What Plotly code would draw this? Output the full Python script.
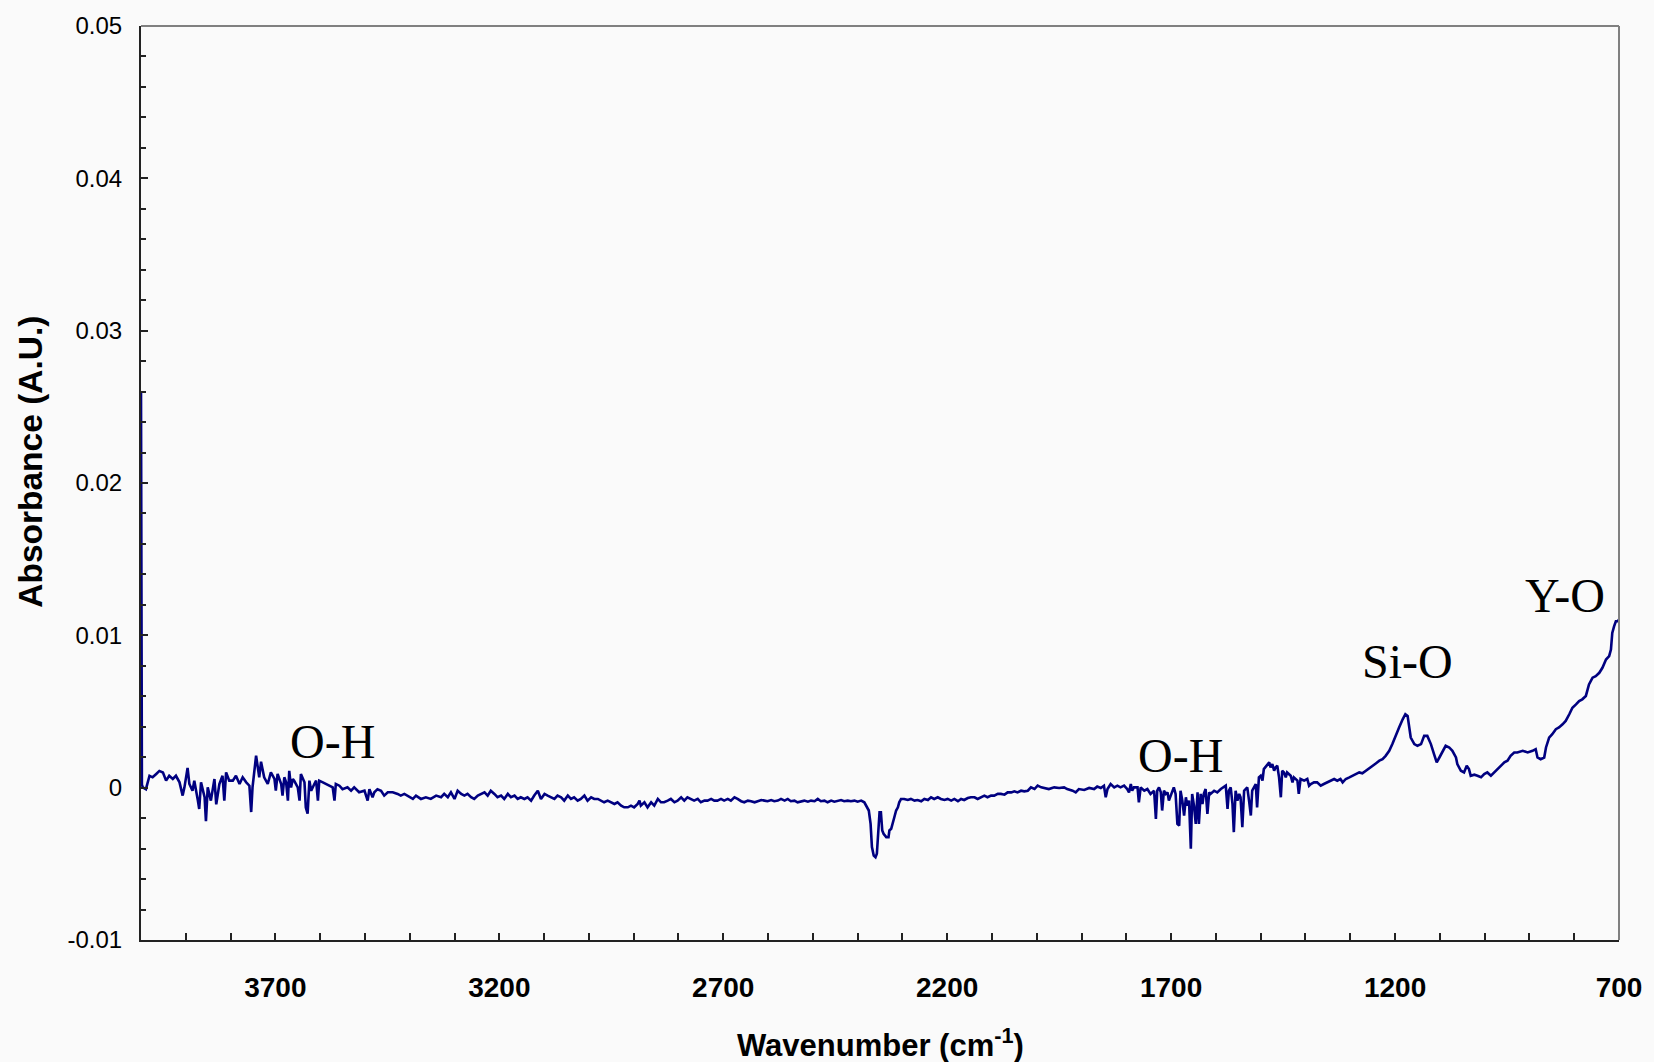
import plotly.graph_objects as go

# Spectrum: wavenumber (cm^-1) and absorbance (A.U.)
wavenumber = [
    4000, 3998, 3996, 3989, 3981, 3974, 3966, 3959, 3951, 3944, 3937, 3929, 3922, 3914, 3907, 3903,
    3896, 3892, 3885, 3881, 3873, 3870, 3866, 3858, 3855, 3851, 3844, 3836, 3832, 3825, 3818, 3814,
    3810, 3803, 3795, 3788, 3780, 3773, 3765, 3758, 3754, 3751, 3743, 3739, 3736, 3732, 3728, 3725,
    3717, 3710, 3702, 3699, 3695, 3687, 3684, 3680, 3676, 3672, 3669, 3665, 3661, 3658, 3650, 3646,
    3643, 3635, 3632, 3628, 3624, 3620, 3613, 3609, 3605, 3602, 3594, 3587, 3579, 3572, 3568, 3565,
    3557, 3550, 3539, 3531, 3524, 3513, 3501, 3494, 3490, 3483, 3479, 3472, 3464, 3457, 3449, 3438,
    3427, 3420, 3412, 3401, 3393, 3386, 3375, 3364, 3353, 3341, 3330,
    3323, 3315, 3308, 3300, 3293, 3285, 3278, 3271, 3263, 3256, 3248, 3241, 3233, 3226, 3219, 3211,
    3204, 3196, 3189, 3181, 3174, 3166, 3159, 3152, 3144, 3137, 3129, 3122, 3114, 3107, 3099, 3092,
    3085, 3077, 3070, 3062, 3055, 3047, 3040, 3033, 3025, 3018, 3010, 3003, 2995, 2988, 2980, 2973,
    2966, 2958, 2951, 2943, 2936, 2928, 2921, 2913, 2906, 2899, 2891, 2887, 2884, 2876, 2869, 2861,
    2854, 2846, 2839, 2832, 2824, 2817, 2809, 2802, 2794, 2787, 2780, 2772, 2765, 2757, 2750, 2742,
    2735, 2727, 2720, 2713, 2705, 2698, 2690, 2683, 2675, 2668,
    2660, 2653, 2645, 2638, 2630, 2623, 2615, 2608, 2601, 2593, 2586, 2578, 2571, 2563, 2556, 2549,
    2541, 2534, 2526, 2519, 2511, 2504, 2496, 2489, 2482, 2474, 2467, 2459, 2452, 2444, 2437, 2430,
    2422, 2415, 2407, 2400, 2392, 2385, 2381, 2375, 2371, 2368, 2364, 2360, 2357, 2355, 2353, 2351,
    2348, 2345, 2342, 2336, 2331, 2329, 2325, 2322, 2318, 2314, 2310, 2307, 2303, 2296, 2288, 2281,
    2273, 2266, 2258, 2251, 2243, 2236, 2229, 2221, 2214, 2206, 2199, 2191, 2184, 2176, 2169, 2162,
    2154, 2147, 2139, 2132, 2124, 2117, 2110, 2102, 2095, 2087, 2080, 2072, 2065, 2057, 2050, 2043,
    2035, 2028, 2020, 2013, 2005, 1998, 1990,
    1984, 1973, 1961, 1950, 1939, 1932, 1920, 1913, 1906, 1894, 1883, 1872, 1865, 1857, 1850, 1846,
    1842, 1835, 1827, 1820, 1813, 1805, 1798, 1794, 1790, 1787, 1783, 1775, 1772, 1768, 1760, 1753,
    1746, 1738, 1734, 1731, 1727, 1723, 1720, 1716, 1712, 1708, 1705, 1701, 1694, 1690, 1686, 1682,
    1679, 1675, 1671, 1667, 1664, 1660, 1656, 1653, 1649, 1645, 1641, 1638, 1634, 1630, 1627, 1623,
    1619, 1615, 1612, 1604, 1597, 1589, 1582, 1578, 1574, 1571, 1567, 1563, 1560, 1556, 1552, 1548,
    1545, 1541, 1537, 1530, 1526, 1522, 1519, 1515, 1511, 1508, 1504, 1500, 1496, 1493, 1485, 1481,
    1478, 1474, 1470, 1467, 1463, 1459, 1455, 1452, 1448, 1444, 1441, 1433, 1429, 1426, 1418, 1415,
    1411, 1403, 1396, 1392, 1388, 1381, 1374, 1366, 1359, 1351, 1344, 1336, 1329, 1322,
    1317, 1310, 1302, 1295, 1287, 1280, 1273, 1265, 1258, 1250, 1243, 1235, 1228, 1221, 1213, 1206,
    1198, 1191, 1183, 1177, 1172, 1168, 1165, 1157, 1150, 1142, 1135, 1128, 1120, 1113, 1107, 1101,
    1094, 1087, 1079, 1072, 1064, 1061, 1053, 1046, 1040, 1035, 1031, 1023, 1016, 1008, 1001, 994,
    986, 979, 971, 964, 956, 949, 942, 934, 927, 915, 904, 893, 886, 882, 875, 867,
    863, 856, 849, 841, 834, 826, 819, 811, 804, 796, 789, 782, 774, 770, 767, 759,
    752, 744, 737, 729, 722, 718, 715, 711, 707, 703, 700,
]

absorbance = [
    0.026, 0.0002, 0.00002, -0.0001, 0.00078, 0.00068, 0.0009, 0.0011, 0.0010, 0.00046, 0.00078, 0.00057, 0.00078, 0.00035, -0.00052, 0.00002,
    0.0013, 0.00024, -0.0002, 0.00046, -0.00085, -0.0014, 0.00035, -0.00063, -0.0022, 0.00002, -0.00085, 0.00057, -0.0011, 0.00024, 0.00078, -0.00085,
    0.0010, 0.00046, 0.00046, 0.00078, 0.00024, 0.00068, 0.00035, 0.00013, -0.0016, 0.00002, 0.0021, 0.0013, 0.00068, 0.0017, 0.0010, 0.00068,
    0.00024, 0.0010, 0.00057, -0.0002, 0.0009, 0.00024, -0.00052, 0.00068, 0.00035, -0.00085, 0.0011, 0.00002, 0.00057, 0.00046, 0.00002, -0.00085,
    0.0009, 0.00035, -0.0013, -0.0017, 0.00046, -0.0002, 0.00024, 0.00046, -0.00085, 0.00046, 0.00035, 0.00024, 0.00013, 0.00002, -0.00085, 0.00024,
    0.00013, -0.0001, 0.00002, -0.0002, 0.00002, -0.0003, -0.0002, -0.00085, -0.0001, -0.00063, -0.0003, -0.0001, -0.0002, -0.00052, -0.0003, -0.0003,
    -0.00041, -0.00052, -0.00041, -0.00063, -0.00074, -0.00052, -0.00074, -0.00063, -0.00074, -0.00052, -0.00063,
    -0.00041, -0.00063, -0.00031, -0.00074, -0.0002, -0.00041, -0.00052, -0.00041, -0.00063, -0.00074, -0.00052, -0.00041, -0.00031, -0.00052, -0.0002, -0.00041,
    -0.00063, -0.00052, -0.00074, -0.00041, -0.00063, -0.00052, -0.00074, -0.00063, -0.00074, -0.00063, -0.00085, -0.00052, -0.0002, -0.00074, -0.00041, -0.00052,
    -0.00063, -0.00074, -0.00052, -0.00063, -0.00085, -0.00052, -0.00074, -0.00063, -0.00085, -0.00074, -0.00052, -0.00085, -0.00063, -0.00074, -0.00074, -0.00085,
    -0.00096, -0.00085, -0.00096, -0.00107, -0.00096, -0.00118, -0.00129, -0.00129, -0.00118, -0.00129, -0.00107, -0.00085, -0.00118, -0.00096, -0.00129, -0.00096,
    -0.00118, -0.00074, -0.00096, -0.00096, -0.00085, -0.00074, -0.00096, -0.00085, -0.00063, -0.00085, -0.00063, -0.00074, -0.00085, -0.00074, -0.00096, -0.00085,
    -0.00085, -0.00074, -0.00085, -0.00085, -0.00074, -0.00085, -0.00074, -0.00085, -0.00063, -0.00074,
    -0.00089, -0.00096, -0.00085, -0.00089, -0.00096, -0.00089, -0.00081, -0.00085, -0.00089, -0.00081, -0.00089, -0.00085, -0.00074, -0.00085, -0.00074, -0.00089,
    -0.00085, -0.00096, -0.00092, -0.00085, -0.00092, -0.00085, -0.00089, -0.00074, -0.00089, -0.00085, -0.00096, -0.00085, -0.00092, -0.00085, -0.00081, -0.00089,
    -0.00085, -0.00089, -0.00085, -0.00092, -0.00085, -0.00096, -0.00118, -0.0015, -0.00238, -0.0039, -0.00445, -0.00456, -0.00434, -0.00347, -0.00259, -0.00161,
    -0.00161, -0.00281, -0.00303, -0.00325, -0.00325, -0.00281, -0.0027, -0.00227, -0.00194, -0.0015, -0.00129, -0.00096, -0.00074, -0.00074, -0.00081, -0.00074,
    -0.00085, -0.00081, -0.00089, -0.00074, -0.00081, -0.00063, -0.00074, -0.00063, -0.00074, -0.00081, -0.00074, -0.00085, -0.00074, -0.00089, -0.00074, -0.00081,
    -0.00068, -0.00063, -0.00063, -0.00074, -0.00063, -0.00052, -0.00063, -0.00052, -0.00052, -0.00041, -0.00041, -0.00046, -0.00031, -0.00031, -0.00024, -0.00031,
    -0.0002, -0.00024, -0.0002, 0.00002, -0.00009, 0.00013, 0.00002,
    -0.00002, -0.00009, 0.00002, -0.00002, 0.00002, -0.00009, -0.0002, -0.00031, -0.00009, -0.00015, -0.00002, -0.00009, 0.00007, -0.00002, 0.00013, -0.00063,
    -0.00009, 0.00024, 0.00002, 0.00013, 0.00002, 0.00013, -0.00009, -0.00031, 0.00024, -0.0002, 0.00002, 0.00002, -0.00096, 0.00002, -0.0002, -0.00009,
    -0.00041, -0.0002, -0.00205, -0.0002, 0.00002, -0.00031, -0.0015, -0.0002, -0.00041, -0.00031, -0.00085, -0.00052, 0.00002, -0.00041, -0.00238, -0.00249,
    -0.0002, -0.00085, -0.00183, -0.00063, -0.00118, -0.00085, -0.00401, -0.00041, -0.00118, -0.00238, -0.00031, -0.00238, -0.00041, -0.00107, -0.00041, -0.00009,
    -0.00172, -0.00031, -0.00041, -0.0002, -0.00031, -0.00009, 0.00002, 0.00013, -0.0014, -0.0002, 0.00002, -0.00107, -0.00292, -0.0002, -0.00085, -0.00041,
    -0.00063, -0.00259, -0.0002, 0.00002, -0.00085, -0.00183, -0.0002, 0.00002, 0.00024, -0.00129, 0.00068, 0.00078, 0.00046, 0.00122, 0.00155, 0.00166,
    0.00133, 0.00155, 0.00111, 0.00133, 0.00144, 0.00068, -0.00063, 0.00111, 0.001, 0.00068, 0.001, 0.00078, 0.00035, 0.00068, 0.00046, -0.00041,
    0.00057, 0.00046, 0.00057, 0.00013, 0.00024, 0.00035, 0.00035, 0.00013, 0.00024, 0.00035, 0.00046, 0.00057, 0.00046, 0.00057,
    0.00035, 0.00057, 0.00068, 0.00078, 0.00094, 0.001, 0.00094, 0.00111, 0.00122, 0.00144, 0.00159, 0.00177, 0.00187, 0.00209, 0.00242, 0.00286,
    0.00351, 0.00395, 0.00449, 0.00482, 0.00471, 0.00405, 0.00329, 0.00286, 0.00275, 0.00286, 0.0034, 0.0034, 0.00286, 0.0022, 0.00166, 0.00198,
    0.00242, 0.00275, 0.00264, 0.00242, 0.00198, 0.00155, 0.00111, 0.001, 0.00144, 0.00122, 0.00078, 0.00085, 0.00078, 0.00068, 0.00089, 0.001,
    0.00078, 0.001, 0.00122, 0.00144, 0.00166, 0.00177, 0.00209, 0.00231, 0.00231, 0.00242, 0.00231, 0.00242, 0.00253, 0.00198, 0.00187, 0.00198,
    0.00264, 0.00329, 0.00351, 0.00384, 0.00395, 0.00416, 0.00438, 0.00482, 0.00525, 0.00547, 0.00569, 0.0058, 0.00602, 0.00645, 0.00678, 0.00722,
    0.00732, 0.00754, 0.00787, 0.00841, 0.00863, 0.00907, 0.01016, 0.01059, 0.01092, 0.01092, 0.01103,
]

x_tick_values = [3700, 3200, 2700, 2200, 1700, 1200, 700]
x_tick_labels = ["3700", "3200", "2700", "2200", "1700", "1200", "700"]
y_tick_values = [-0.01, 0, 0.01, 0.02, 0.03, 0.04, 0.05]
y_tick_labels = ["-0.01", "0", "0.01", "0.02", "0.03", "0.04", "0.05"]

band_labels = ["O-H", "O-H", "Si-O", "Y-O"]
band_x = [3573, 1680, 1173, 820]
band_y = [0.0030, 0.0021, 0.0083, 0.0126]

FONT = "Liberation Sans, Arial, sans-serif"
SERIF = "Liberation Serif, Times New Roman, serif"
BG = "#fafafa"

fig = go.Figure()
fig.add_trace(go.Scatter(
    x=wavenumber, y=absorbance, mode="lines",
    line=dict(color="#000080", width=2.6),
    showlegend=False, hoverinfo="skip",
))

for t, bx, by in zip(band_labels, band_x, band_y):
    fig.add_annotation(x=bx, y=by, xref="x", yref="y", text=t, showarrow=False,
                       xanchor="center", yanchor="middle",
                       font=dict(family=SERIF, size=48, color="black"))

# axis titles
fig.add_annotation(x=0.5, y=-0.1125, xref="paper", yref="paper",
                   text="Wavenumber (cm<sup>-1</sup>)", showarrow=False,
                   xanchor="center", yanchor="middle",
                   font=dict(family=FONT, size=31, color="black", weight="bold"))
fig.add_annotation(x=-0.075, y=0.5234, xref="paper", yref="paper",
                   text="Absorbance (A.U.)", showarrow=False, textangle=-90,
                   xanchor="center", yanchor="middle",
                   font=dict(family=FONT, size=33.5, color="black", weight="bold"))

# top and right frame lines (grey)
fig.add_shape(type="line", xref="paper", yref="paper", x0=0, x1=1, y0=1, y1=1,
              line=dict(color="#808080", width=2))
fig.add_shape(type="line", xref="paper", yref="paper", x0=1, x1=1, y0=0, y1=1,
              line=dict(color="#808080", width=2))

fig.update_layout(
    width=1654, height=1062, autosize=False,
    margin=dict(l=141, r=34, t=23, b=122),
    paper_bgcolor=BG, plot_bgcolor=BG,
    font=dict(family=FONT, color="black"),
    xaxis=dict(
        range=[4000, 700], tickmode="array", tickvals=x_tick_values, ticktext=x_tick_labels,
        ticks="inside", ticklen=7, tickwidth=1.5, tickcolor="#222",
        minor=dict(dtick=100, tick0=700, ticks="inside", ticklen=7, tickwidth=1.5, tickcolor="#222"),
        showgrid=False, zeroline=False, showline=True, linecolor="#222", linewidth=2,
        tickfont=dict(family=FONT, size=28, color="black", weight="bold"),
        ticklabelstandoff=21,
    ),
    yaxis=dict(
        range=[-0.01, 0.05], tickmode="array", tickvals=y_tick_values, ticktext=y_tick_labels,
        ticks="inside", ticklen=7, tickwidth=1.5, tickcolor="#222",
        minor=dict(dtick=0.002, tick0=0, ticks="inside", ticklen=5, tickwidth=1.5, tickcolor="#222"),
        showgrid=False, zeroline=False, showline=True, linecolor="#222", linewidth=2,
        tickfont=dict(family=FONT, size=24, color="black"),
        ticklabelstandoff=12,
    ),
)

fig.write_html("out.html")
